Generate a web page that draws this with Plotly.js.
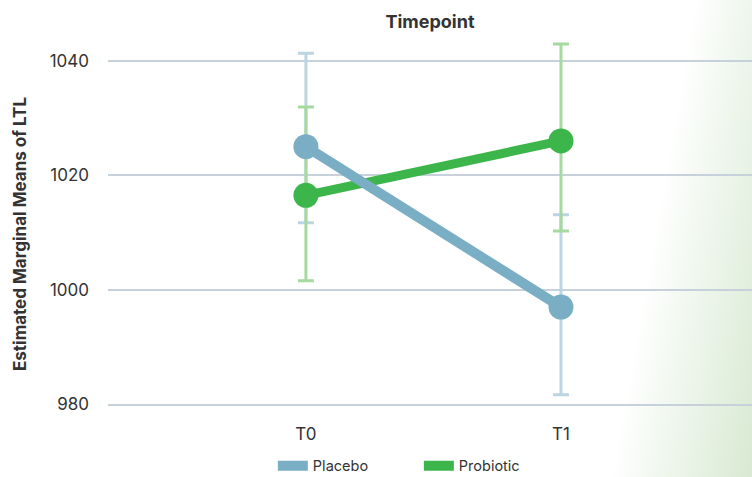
<!DOCTYPE html>
<html>
<head>
<meta charset="utf-8">
<script src="https://cdn.plot.ly/plotly-3.0.1.min.js"></script>
<style>
  html, body { margin: 0; padding: 0; }
  body {
    width: 752px; height: 477px; overflow: hidden;
    background: linear-gradient(100deg, #ffffff 0%, #ffffff 83%, #eef6ec 90%, #d8e9d2 100%);
  }
  #chart { width: 752px; height: 477px; }
</style>
</head>
<body>
<div id="chart"></div>
<script>
// ---- data ----
const timepoints = ["T0", "T1"];
const placeboMean = [1025.0, 997.0];
const placeboUpper = [1041.3, 1013.1];
const placeboLower = [1011.7, 981.7];
const probioticMean = [1016.5, 1026.0];
const probioticUpper = [1031.9, 1042.9];
const probioticLower = [1001.6, 1010.3];
const yTicks = [980, 1000, 1020, 1040];
const seriesNames = ["Placebo", "Probiotic"];

const placeboColor = "#7aaec4";
const probioticColor = "#3cb54a";
const placeboErrColor = "#bcd5e2";
const probioticErrColor = "#a6d99f";

function plus(mean, up) { return mean.map((m, i) => up[i] - m); }
function minus(mean, lo) { return mean.map((m, i) => m - lo[i]); }

const font = "Inter, 'Noto Sans', sans-serif";

const traces = [
  { // placebo error bars
    x: timepoints, y: placeboMean, type: "scatter", mode: "markers",
    marker: { size: 1, color: "rgba(0,0,0,0)" },
    error_y: { type: "data", symmetric: false, array: plus(placeboMean, placeboUpper),
      arrayminus: minus(placeboMean, placeboLower), color: placeboErrColor, thickness: 3, width: 8 },
    showlegend: false, hoverinfo: "skip"
  },
  { // probiotic error bars
    x: timepoints, y: probioticMean, type: "scatter", mode: "markers",
    marker: { size: 1, color: "rgba(0,0,0,0)" },
    error_y: { type: "data", symmetric: false, array: plus(probioticMean, probioticUpper),
      arrayminus: minus(probioticMean, probioticLower), color: probioticErrColor, thickness: 3, width: 8 },
    showlegend: false, hoverinfo: "skip"
  },
  {
    x: timepoints, y: probioticMean, type: "scatter", mode: "lines+markers", name: seriesNames[1],
    line: { color: probioticColor, width: 9 },
    marker: { color: probioticColor, size: 25 },
    showlegend: false
  },
  {
    x: timepoints, y: placeboMean, type: "scatter", mode: "lines+markers", name: seriesNames[0],
    line: { color: placeboColor, width: 10 },
    marker: { color: placeboColor, size: 25 },
    showlegend: false
  },
  { // legend entries
    x: [null], y: [null], type: "scatter", mode: "lines", name: seriesNames[0],
    line: { color: placeboColor, width: 10 }, legendrank: 1
  },
  {
    x: [null], y: [null], type: "scatter", mode: "lines", name: seriesNames[1],
    line: { color: probioticColor, width: 10 }, legendrank: 2
  }
];

const layout = {
  width: 752, height: 477,
  margin: { l: 108, r: 0, t: 32, b: 61, autoexpand: false },
  paper_bgcolor: "rgba(0,0,0,0)",
  plot_bgcolor: "rgba(0,0,0,0)",
  font: { family: font, color: "#333333", size: 16 },
  title: { text: "<b>Timepoint</b>", font: { family: font, size: 18, color: "#333333" },
    x: 0.5, xref: "paper", xanchor: "center", y: 1 - 22 / 477, yanchor: "middle" },
  xaxis: {
    type: "category", range: [-0.776, 1.749], showgrid: false, zeroline: false, showline: false,
    tickfont: { family: font, size: 17, color: "#333333" }, ticks: "", ticklabelstandoff: 6,
    fixedrange: true
  },
  yaxis: {
    range: [978, 1045], tickvals: yTicks, ticktext: yTicks.map(String),
    showgrid: true, gridcolor: "#c6d1db", gridwidth: 2, zeroline: false, showline: false,
    tickfont: { family: font, size: 17, color: "#333333" }, ticks: "", ticklabelstandoff: 18,
    fixedrange: true
  },
  annotations: [{
    text: "<b>Estimated Marginal Means of LTL</b>", textangle: -90,
    xref: "paper", yref: "paper", x: (20 - 108) / 644, y: (416 - 234) / 384,
    xanchor: "center", yanchor: "middle", showarrow: false,
    font: { family: font, size: 17, color: "#333333" }
  }],
  legend: {
    orientation: "h", x: 0.4827, xanchor: "center", y: -0.088, yanchor: "top",
    font: { family: font, size: 14.5, color: "#333333" }, bgcolor: "rgba(0,0,0,0)",
    entrywidth: 101
  },
  showlegend: true
};

Plotly.newPlot("chart", traces, layout, { displayModeBar: false, staticPlot: true });
</script>
</body>
</html>
